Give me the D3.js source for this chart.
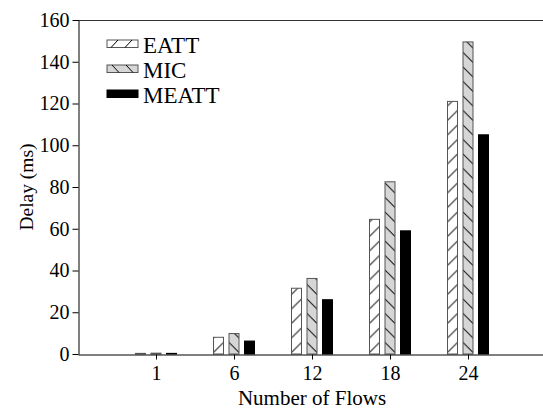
<!DOCTYPE html>
<html>
<head>
<meta charset="utf-8">
<script src="https://cdn.jsdelivr.net/npm/d3@7"></script>
<style>
  body { margin: 0; background: #fff; }
  svg text { font-family: "Liberation Serif", "Times New Roman", serif; fill: #000; }
</style>
</head>
<body>
<svg width="543" height="414"></svg>
<script>
// data
var flows = ["1", "6", "12", "18", "24"];
var seriesNames = ["EATT", "MIC", "MEATT"];
var eatt = [0.3, 8, 31.5, 64.5, 121];
var mic = [0.4, 9.8, 36.2, 82.5, 149.5];
var meatt = [0.3, 6.2, 26, 59, 105];
var yTicks = [0, 20, 40, 60, 80, 100, 120, 140, 160];

var svg = d3.select("svg");
var margin = {left: 78, top: 20, bottom: 354};
var plotRight = 546;

var x = d3.scaleLinear().domain([0, 6]).range([margin.left, plotRight]);
var y = d3.scaleLinear().domain([0, 160]).range([margin.bottom, margin.top]);

// hatch patterns
var defs = svg.append("defs");
var p1 = defs.append("pattern").attr("id", "hatchUp")
  .attr("patternUnits", "userSpaceOnUse").attr("width", 10).attr("height", 14.5);
p1.append("rect").attr("width", 10).attr("height", 14.5).attr("fill", "#fff");
p1.append("path").attr("d", "M0,-1.5 L10,-11.5 M0,13 L10,3")
  .attr("stroke", "#000").attr("stroke-width", 1);
var p2 = defs.append("pattern").attr("id", "hatchDown")
  .attr("patternUnits", "userSpaceOnUse").attr("width", 10).attr("height", 14.5);
p2.append("rect").attr("width", 10).attr("height", 14.5).attr("fill", "#d6d6d6");
p2.append("path").attr("d", "M0,-11.5 L10,-1.5 M0,3 L10,13")
  .attr("stroke", "#000").attr("stroke-width", 1);

var fills = ["url(#hatchUp)", "url(#hatchDown)", "#000"];
var strokes = ["#555", "#555", "#000"];
var allSeries = [eatt, mic, meatt];
var offsets = [-15.5, 0, 15.5];
var barW = 10;

allSeries.forEach(function(vals, s) {
  var g = svg.append("g");
  g.selectAll("g.bar")
    .data(vals)
    .enter()
    .append("g")
      .attr("class", "bar")
      .attr("transform", function(d, i) {
        return "translate(" + (x(i + 1) + offsets[s] - barW / 2) + "," + y(0) + ")";
      })
    .append("rect")
      .attr("x", 0)
      .attr("y", function(d) { return y(d) - y(0); })
      .attr("width", barW)
      .attr("height", function(d) { return y(0) - y(d); })
      .attr("fill", fills[s])
      .attr("stroke", strokes[s])
      .attr("stroke-width", 1);
});

// frame top line
svg.append("line")
  .attr("x1", margin.left).attr("x2", 543)
  .attr("y1", y(160) + 0.5).attr("y2", y(160) + 0.5)
  .attr("stroke", "#333").attr("stroke-width", 1);

// axes
var yAxis = svg.append("g")
  .attr("transform", "translate(" + (margin.left + 0.5) + ",0)")
  .call(d3.axisLeft(y).tickValues(yTicks).tickSize(6).tickPadding(3).tickSizeOuter(0));
var xAxis = svg.append("g")
  .attr("transform", "translate(0," + (y(0) + 0.5) + ")")
  .call(d3.axisBottom(x).tickValues([1, 2, 3, 4, 5])
    .tickFormat(function(d) { return flows[d - 1]; })
    .tickSize(5).tickPadding(6).tickSizeOuter(0));

[yAxis, xAxis].forEach(function(a) {
  a.attr("font-family", "Liberation Serif").attr("font-size", 20);
  a.selectAll("path, line").attr("stroke", "#000");
  a.selectAll("text").attr("fill", "#000");
});

// axis titles
svg.append("text")
  .attr("transform", "translate(33,187) rotate(-90)")
  .attr("text-anchor", "middle")
  .style("font-size", "19.5px")
  .text("Delay (ms)");
svg.append("text")
  .attr("x", 312).attr("y", 405)
  .attr("text-anchor", "middle")
  .style("font-size", "21px")
  .text("Number of Flows");

// legend
var legend = svg.append("g").attr("transform", "translate(107,40)");
seriesNames.forEach(function(name, i) {
  var row = legend.append("g").attr("transform", "translate(0," + (i * 25) + ")");
  row.append("rect")
    .attr("width", 31).attr("height", 7.5)
    .attr("fill", i === 2 ? "#000" : (i === 0 ? "#fff" : "#d6d6d6"))
    .attr("stroke", strokes[i]);
  if (i < 2) {
    var lines = i === 0
      ? [[4, 7.5, 11, 0], [18, 7.5, 25, 0]]
      : [[5, 0, 12, 7.5], [19, 0, 26, 7.5]];
    lines.forEach(function(l) {
      row.append("line").attr("x1", l[0]).attr("y1", l[1]).attr("x2", l[2]).attr("y2", l[3])
        .attr("stroke", "#000");
    });
  }
  row.append("text")
    .attr("x", 36).attr("y", 13)
    .style("font-size", "23px")
    .text(name);
});
</script>
</body>
</html>
